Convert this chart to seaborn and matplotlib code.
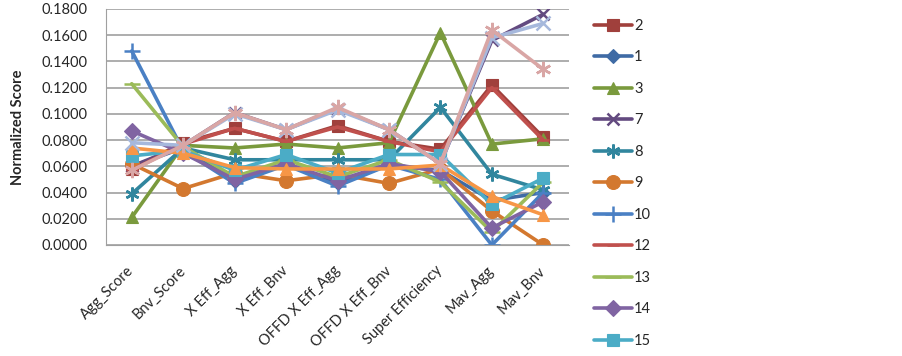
import matplotlib
matplotlib.use("Agg")
import matplotlib.pyplot as plt
import seaborn as sns
import pandas as pd
import numpy as np

categories = ["Agg_Score", "Bnv_Score", "X Eff_Agg", "X Eff_Bnv", "OFFD X Eff_Agg",
              "OFFD X Eff_Bnv", "Super Efficiency", "Mav_Agg", "Mav_Bnv"]

s2  = [0.058, 0.078, 0.089, 0.079, 0.091, 0.079, 0.073, 0.122, 0.082]
s1  = [0.060, 0.074, 0.049, 0.062, 0.047, 0.061, 0.057, 0.034, 0.040]
s3  = [0.021, 0.076, 0.074, 0.077, 0.074, 0.078, 0.162, 0.077, 0.081]
s7  = [0.060, 0.076, 0.101, 0.088, 0.104, 0.088, 0.062, 0.156, 0.176]
s8  = [0.039, 0.074, 0.065, 0.065, 0.065, 0.065, 0.105, 0.054, 0.042]
s9  = [0.062, 0.043, 0.055, 0.049, 0.054, 0.047, 0.058, 0.026, 0.000]
s10 = [0.148, 0.072, 0.047, 0.061, 0.045, 0.061, 0.050, 0.000, 0.040]
s12 = [0.057, 0.077, 0.089, 0.079, 0.090, 0.079, 0.071, 0.120, 0.080]
s13 = [0.123, 0.075, 0.052, 0.065, 0.052, 0.065, 0.048, 0.010, 0.048]
s14 = [0.087, 0.070, 0.050, 0.062, 0.049, 0.062, 0.056, 0.013, 0.033]
s15 = [0.068, 0.072, 0.057, 0.069, 0.055, 0.069, 0.069, 0.031, 0.051]
s16 = [0.074, 0.070, 0.059, 0.058, 0.058, 0.058, 0.061, 0.037, 0.023]
s17 = [0.078, 0.076, 0.100, 0.088, 0.103, 0.088, 0.062, 0.158, 0.169]
s18 = [0.057, 0.076, 0.101, 0.088, 0.105, 0.088, 0.062, 0.164, 0.134]

series_names = ["2", "1", "3", "7", "8", "9", "10", "12", "13", "14", "15", "16", "17", "18"]
series_values = [s2, s1, s3, s7, s8, s9, s10, s12, s13, s14, s15, s16, s17, s18]
legend_count = 11  # the legend in the reference is cut off after "15"

colors = ["#A0403C", "#3F6BA5", "#7A9A3D", "#634A80", "#31869E", "#D3782F", "#4A80C4",
          "#C0504D", "#9BBB59", "#8064A2", "#4BACC6", "#F79646", "#A6B8DC", "#D9A6A5"]
asterisk = (6, 2, 0)
markers = ["s", "D", "^", "x", asterisk, "o", "+", "_", "_", "D", "s", "^", "x", asterisk]
msizes = [9, 7, 9, 9, 10, 10, 11, 9, 11, 8, 9, 9, 10, 11]

sns.set_style("white")
plt.rcParams["font.family"] = ["Lato", "DejaVu Sans"]

rows = []
for name, vals in zip(series_names, series_values):
    for i, (c, v) in enumerate(zip(categories, vals)):
        rows.append({"series": name, "pos": i, "category": c, "value": v})
df = pd.DataFrame(rows)

fig = plt.figure(figsize=(9.02, 3.56), dpi=100)
ax = fig.add_axes([106 / 902, 1 - 245 / 356, (569 - 106) / 902, (245 - 9) / 356])

for name, col, mk, ms in zip(series_names, colors, markers, msizes):
    sub = df[df["series"] == name]
    sns.lineplot(data=sub, x="pos", y="value", ax=ax, color=col, marker=mk,
                 markersize=ms, linewidth=2.6, markeredgecolor=col,
                 markeredgewidth=1.8 if mk in ("x", "+", "_", asterisk) else 0.8,
                 label=name, sort=False, legend=False)

ax.set_xlim(-0.5, len(categories) - 0.5)
ax.set_ylim(0, 0.18)
yt = np.arange(0, 0.1801, 0.02)
ax.set_yticks(yt)
ax.set_yticklabels([f"{t:.4f}" for t in yt], fontsize=10.5)
ax.set_xticks(range(len(categories)))
ax.set_xticklabels(categories, rotation=45, ha="right", va="center",
                   rotation_mode="anchor", fontsize=10.5)
ax.tick_params(axis="y", length=0, pad=13)
ax.tick_params(axis="x", length=0, pad=17)
ax.grid(axis="y", color="#A0A0A0", linewidth=1.2)
ax.set_axisbelow(True)
for sp in ["top", "right"]:
    ax.spines[sp].set_visible(False)
ax.spines["left"].set_color("#A0A0A0")
ax.spines["bottom"].set_color("#A0A0A0")
ax.set_xlabel("")
ax.set_ylabel("Normalized Score", fontsize=10.5, fontweight="bold")
ax.yaxis.set_label_coords((25 - 106) / 463, 0.5)

handles, labels = ax.get_legend_handles_labels()
leg = fig.legend(handles[:legend_count], labels[:legend_count], loc="upper left",
                 bbox_to_anchor=(588 / 902, 1 - 13 / 356),
                 frameon=False, fontsize=10.5, labelspacing=1.2, handlelength=2.6,
                 handletextpad=0.15, borderaxespad=0)

fig.savefig("out.png", dpi=100)
